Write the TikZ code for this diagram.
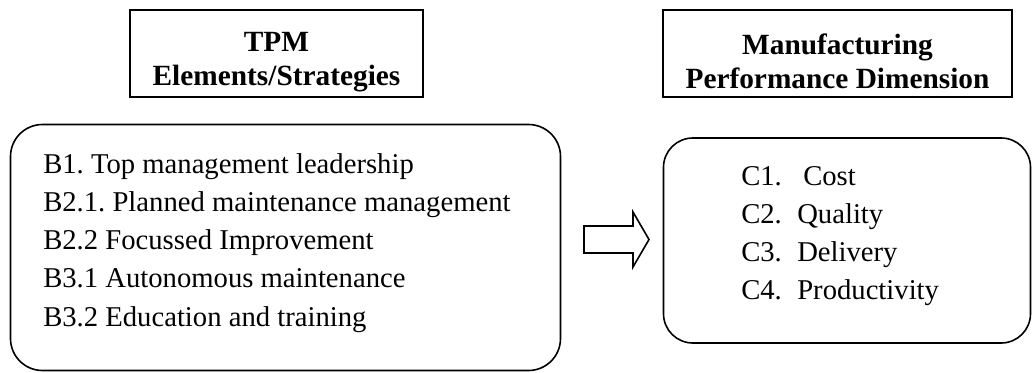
\documentclass[tikz,border=0pt]{standalone}
\usepackage{fontspec}
\setmainfont{Liberation Serif}
\frenchspacing
\tikzset{
    head box/.style = {draw, line width=1.2pt, align=center, inner sep=0pt,
        font=\bfseries\fontsize{22}{25.5}\selectfont},
    group box/.style = {draw, line width=1.2pt, inner sep=0pt},
    item/.style = {anchor=base west, inner sep=0pt, font=\fontsize{21.5}{28}\selectfont},
    block arrow/.style = {draw, line width=1.2pt, line join=miter},
}

\begin{document}
\begin{tikzpicture}[x=0.75pt, y=-0.75pt]
    \useasboundingbox (0,0) rectangle (1032,372);

    % headings, first line strut pushes the text a bit lower in the box
    \node[head box, minimum width=219.75pt, minimum height=65.25pt] (tpm) at (276.5, 53.5) {\rule{0pt}{27pt}TPM\\Elements/Strategies};
    \node[head box, minimum width=261.75pt, minimum height=65.25pt] (mpd) at (837.5, 53.5) {\rule{0pt}{27pt}Manufacturing\\Performance Dimension};

    \node[group box, rounded corners=24pt, minimum width=412.5pt, minimum height=184.5pt] (elements) at (285.5, 247.5) {};
    \node[group box, rounded corners=22pt, minimum width=275.25pt, minimum height=153.75pt] (dims) at (847, 240.5) {};

    \path[block arrow] (584, 226) -- (633, 226) -- (633, 212) -- (649, 239.5)
        -- (633, 267) -- (633, 253) -- (584, 253) -- cycle;

    \foreach \i/\t in {1/B1. Top management leadership,
                       2/B2.1. Planned maintenance management,
                       3/B2.2 Focussed Improvement,
                       4/B3.1 Autonomous maintenance,
                       5/B3.2 Education and training}
        \node[item] (b\i) at (43, 173+38.3*\i-38.3) {\t};

    \foreach \i/\t/\x in {1/Cost/803, 2/Quality/797, 3/Delivery/797, 4/Productivity/797} {
        \node[item] (c\i) at (741, 185+38.3*\i-38.3) {C\i.};
        \node[item] (w\i) at (\x, 185+38.3*\i-38.3) {\t};
    }
\end{tikzpicture}
\end{document}
